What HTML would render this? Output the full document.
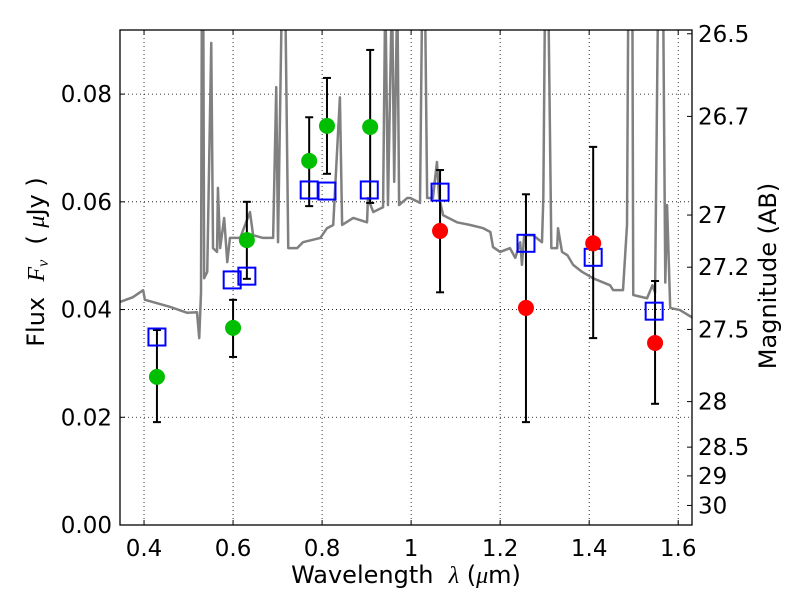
<!DOCTYPE html>
<html><head><meta charset="utf-8"><style>
body{margin:0;background:#fff;}
svg{display:block;font-family:"DejaVu Sans","Liberation Sans",sans-serif;}
</style></head><body>
<svg id="chart" width="800" height="600" viewBox="0 0 800 600" xmlns="http://www.w3.org/2000/svg"></svg>
<script>
const xTicks=[0.4,0.6,0.8,1.0,1.2,1.4,1.6];
const xTickLabels=["0.4","0.6","0.8","1","1.2","1.4","1.6"];
const yTicks=[0,0.02,0.04,0.06,0.08];
const yTickLabels=["0.00","0.02","0.04","0.06","0.08"];
const magTicks=[26.5,26.7,27,27.2,27.5,28,28.5,29,30];
const magTickLabels=["26.5","26.7","27","27.2","27.5","28","28.5","29","30"];
const specWl=[0.346,0.375,0.398,0.402,0.458,0.497,0.519,0.524,0.528,0.530,
0.533,0.535,0.542,0.551,0.555,0.564,0.566,0.571,0.580,0.587,
0.593,0.616,0.638,0.645,0.667,0.690,0.697,0.701,0.710,0.717,
0.724,0.744,0.757,0.796,0.811,0.825,0.840,0.845,0.870,0.901,
0.903,0.915,0.937,0.942,0.948,0.957,0.962,0.969,0.973,0.991,
0.998,1.020,1.025,1.031,1.036,1.049,1.058,1.063,1.072,1.103,
1.133,1.162,1.178,1.184,1.200,1.222,1.234,1.245,1.249,1.254,
1.274,1.294,1.297,1.301,1.308,1.315,1.328,1.330,1.339,1.351,
1.364,1.384,1.409,1.447,1.454,1.476,1.485,1.488,1.497,1.499,
1.530,1.542,1.548,1.555,1.566,1.571,1.575,1.582,1.604,1.634];
const specFlux=[0.0414,0.0423,0.0436,0.0418,0.0405,0.0394,0.0395,0.0347,0.0432,0.1,
0.1,0.0458,0.0470,0.0895,0.0514,0.0507,0.0626,0.0514,0.0570,0.0488,
0.0533,0.0533,0.0581,0.0538,0.0533,0.0533,0.0813,0.0525,0.1,0.1,
0.0514,0.0514,0.0525,0.0533,0.0551,0.0557,0.0794,0.0557,0.0570,0.0562,
0.0607,0.0581,0.0590,0.1,0.0594,0.1,0.0637,0.1,0.0594,0.0607,
0.0607,0.0598,0.1,0.1,0.0607,0.0607,0.0674,0.0607,0.0575,0.0562,
0.0557,0.0551,0.0544,0.0516,0.0507,0.0514,0.0496,0.0525,0.0483,0.0538,
0.0538,0.0525,0.0607,0.1,0.1,0.0514,0.0514,0.0551,0.0507,0.0501,
0.0483,0.0470,0.0458,0.0445,0.0436,0.0436,0.0557,0.1,0.1,0.0427,
0.0421,0.0445,0.0432,0.1,0.1,0.0450,0.0594,0.0403,0.0399,0.0384];
const greenWl=[0.429,0.600,0.631,0.771,0.811,0.908];
const greenFlux=[0.0275,0.0366,0.0529,0.0676,0.0741,0.0739];
const greenLo=[0.0191,0.0312,0.0457,0.0592,0.0652,0.0598];
const greenHi=[0.0362,0.0418,0.0600,0.0757,0.0830,0.0882];
const redWl=[1.065,1.258,1.409,1.548];
const redFlux=[0.0546,0.0403,0.0523,0.0338];
const redLo=[0.0432,0.0191,0.0347,0.0225];
const redHi=[0.0659,0.0614,0.0702,0.0453];
const modelWl=[0.429,0.598,0.631,0.771,0.811,0.906,1.065,1.258,1.409,1.546];
const modelFlux=[0.0349,0.0455,0.0462,0.0622,0.0620,0.0622,0.0618,0.0523,0.0497,0.0397];

const L=120,R=692,T=30,B=525;
const xmin=0.346,xmax=1.631,ymin=0,ymax=0.0919;
const X=v=>L+(v-xmin)/(xmax-xmin)*(R-L);
const Y=v=>B-(v-ymin)/(ymax-ymin)*(B-T);
const svg=document.getElementById('chart');
const NS='http://www.w3.org/2000/svg';
function mk(tag,attrs,parent){const e=document.createElementNS(NS,tag);for(const k in attrs)e.setAttribute(k,attrs[k]);(parent||svg).appendChild(e);return e;}

const defs=mk('defs',{});
const cp=mk('clipPath',{id:'clip'},defs);
mk('rect',{x:L,y:T,width:R-L,height:B-T},cp);

xTicks.forEach((t,i)=>{
  const g=mk('line',{x1:X(t),x2:X(t),y1:T,y2:B,stroke:'#000','stroke-width':0.8,'stroke-dasharray':'1,3'});
  
  
  mk('line',{x1:X(t),x2:X(t),y1:B,y2:B-5,stroke:'#000'});
  mk('line',{x1:X(t),x2:X(t),y1:T,y2:T+5,stroke:'#000'});
  const tx=mk('text',{x:X(t),y:B+31,'text-anchor':'middle','font-size':23});
  tx.textContent=xTickLabels[i];
  
  
});
yTicks.forEach((t,i)=>{
  if(t>0){const g=mk('line',{x1:L,x2:R,y1:Y(t),y2:Y(t),stroke:'#000','stroke-width':0.8,'stroke-dasharray':'1,3'});
  
  }
  mk('line',{x1:L,x2:L+5,y1:Y(t),y2:Y(t),stroke:'#000'});
  const tx=mk('text',{x:L-8,y:Y(t)+8,'text-anchor':'end','font-size':23});
  tx.textContent=yTickLabels[i];
  
  
});
magTicks.forEach((m,i)=>{
  const f=Math.pow(10,(23.9-m)/2.5);
  mk('line',{x1:R,x2:R-5,y1:Y(f),y2:Y(f),stroke:'#000'});
  const tx=mk('text',{x:R+6,y:Y(f)+8,'text-anchor':'start','font-size':23});
  tx.textContent=magTickLabels[i];
  
  
});

const sp=mk('polyline',{points:specWl.map((w,i)=>X(w)+','+Y(specFlux[i])).join(' '),fill:'none',stroke:'#808080','stroke-width':2.5,'stroke-linejoin':'round','clip-path':'url(#clip)'});



function errs(wl,lo,hi){wl.forEach((w,i)=>{
  const g=mk('g',{stroke:'#000','stroke-width':2});
  
  
  mk('line',{x1:X(w),x2:X(w),y1:Y(lo[i]),y2:Y(hi[i])},g);
  mk('line',{x1:X(w)-4,x2:X(w)+4,y1:Y(lo[i]),y2:Y(lo[i])},g);
  mk('line',{x1:X(w)-4,x2:X(w)+4,y1:Y(hi[i]),y2:Y(hi[i])},g);
});}
errs(greenWl,greenLo,greenHi);
errs(redWl,redLo,redHi);
modelWl.forEach((w,i)=>{
  const r=mk('rect',{x:X(w)-8.5,y:Y(modelFlux[i])-8.5,width:17,height:17,fill:'none',stroke:'#0000ff','stroke-width':2});
  
  
});
greenWl.forEach((w,i)=>{
  const c=mk('circle',{cx:X(w),cy:Y(greenFlux[i]),r:8,fill:'#00bf00'});
  
  
});
redWl.forEach((w,i)=>{
  const c=mk('circle',{cx:X(w),cy:Y(redFlux[i]),r:8,fill:'#ff0000'});
  
  
});

const fr=mk('rect',{x:L,y:T,width:R-L,height:B-T,fill:'none',stroke:'#000','stroke-width':1.3});



const xl=mk('text',{x:406,y:583,'text-anchor':'middle','font-size':24});
xl.innerHTML='Wavelength&#160;&#160;<tspan font-family="Liberation Serif,serif" font-style="italic">λ</tspan> (<tspan font-family="Liberation Serif,serif" font-style="italic">μ</tspan>m)';


const yl=mk('text',{x:0,y:0,'text-anchor':'middle','font-size':24,transform:'translate(44,262) rotate(-90)'});
yl.innerHTML='Flux&#160;&#160;<tspan font-family="Liberation Serif,serif" font-style="italic">F</tspan><tspan font-family="Liberation Serif,serif" font-style="italic" font-size="16" dy="4">ν</tspan><tspan dy="-4">&#160;&#160;( </tspan><tspan font-family="Liberation Serif,serif" font-style="italic">μ</tspan>Jy )';


const rl=mk('text',{x:0,y:0,'text-anchor':'middle','font-size':24,transform:'translate(776,276) rotate(-90)'});
rl.textContent='Magnitude (AB)';


</script>
</body></html>
